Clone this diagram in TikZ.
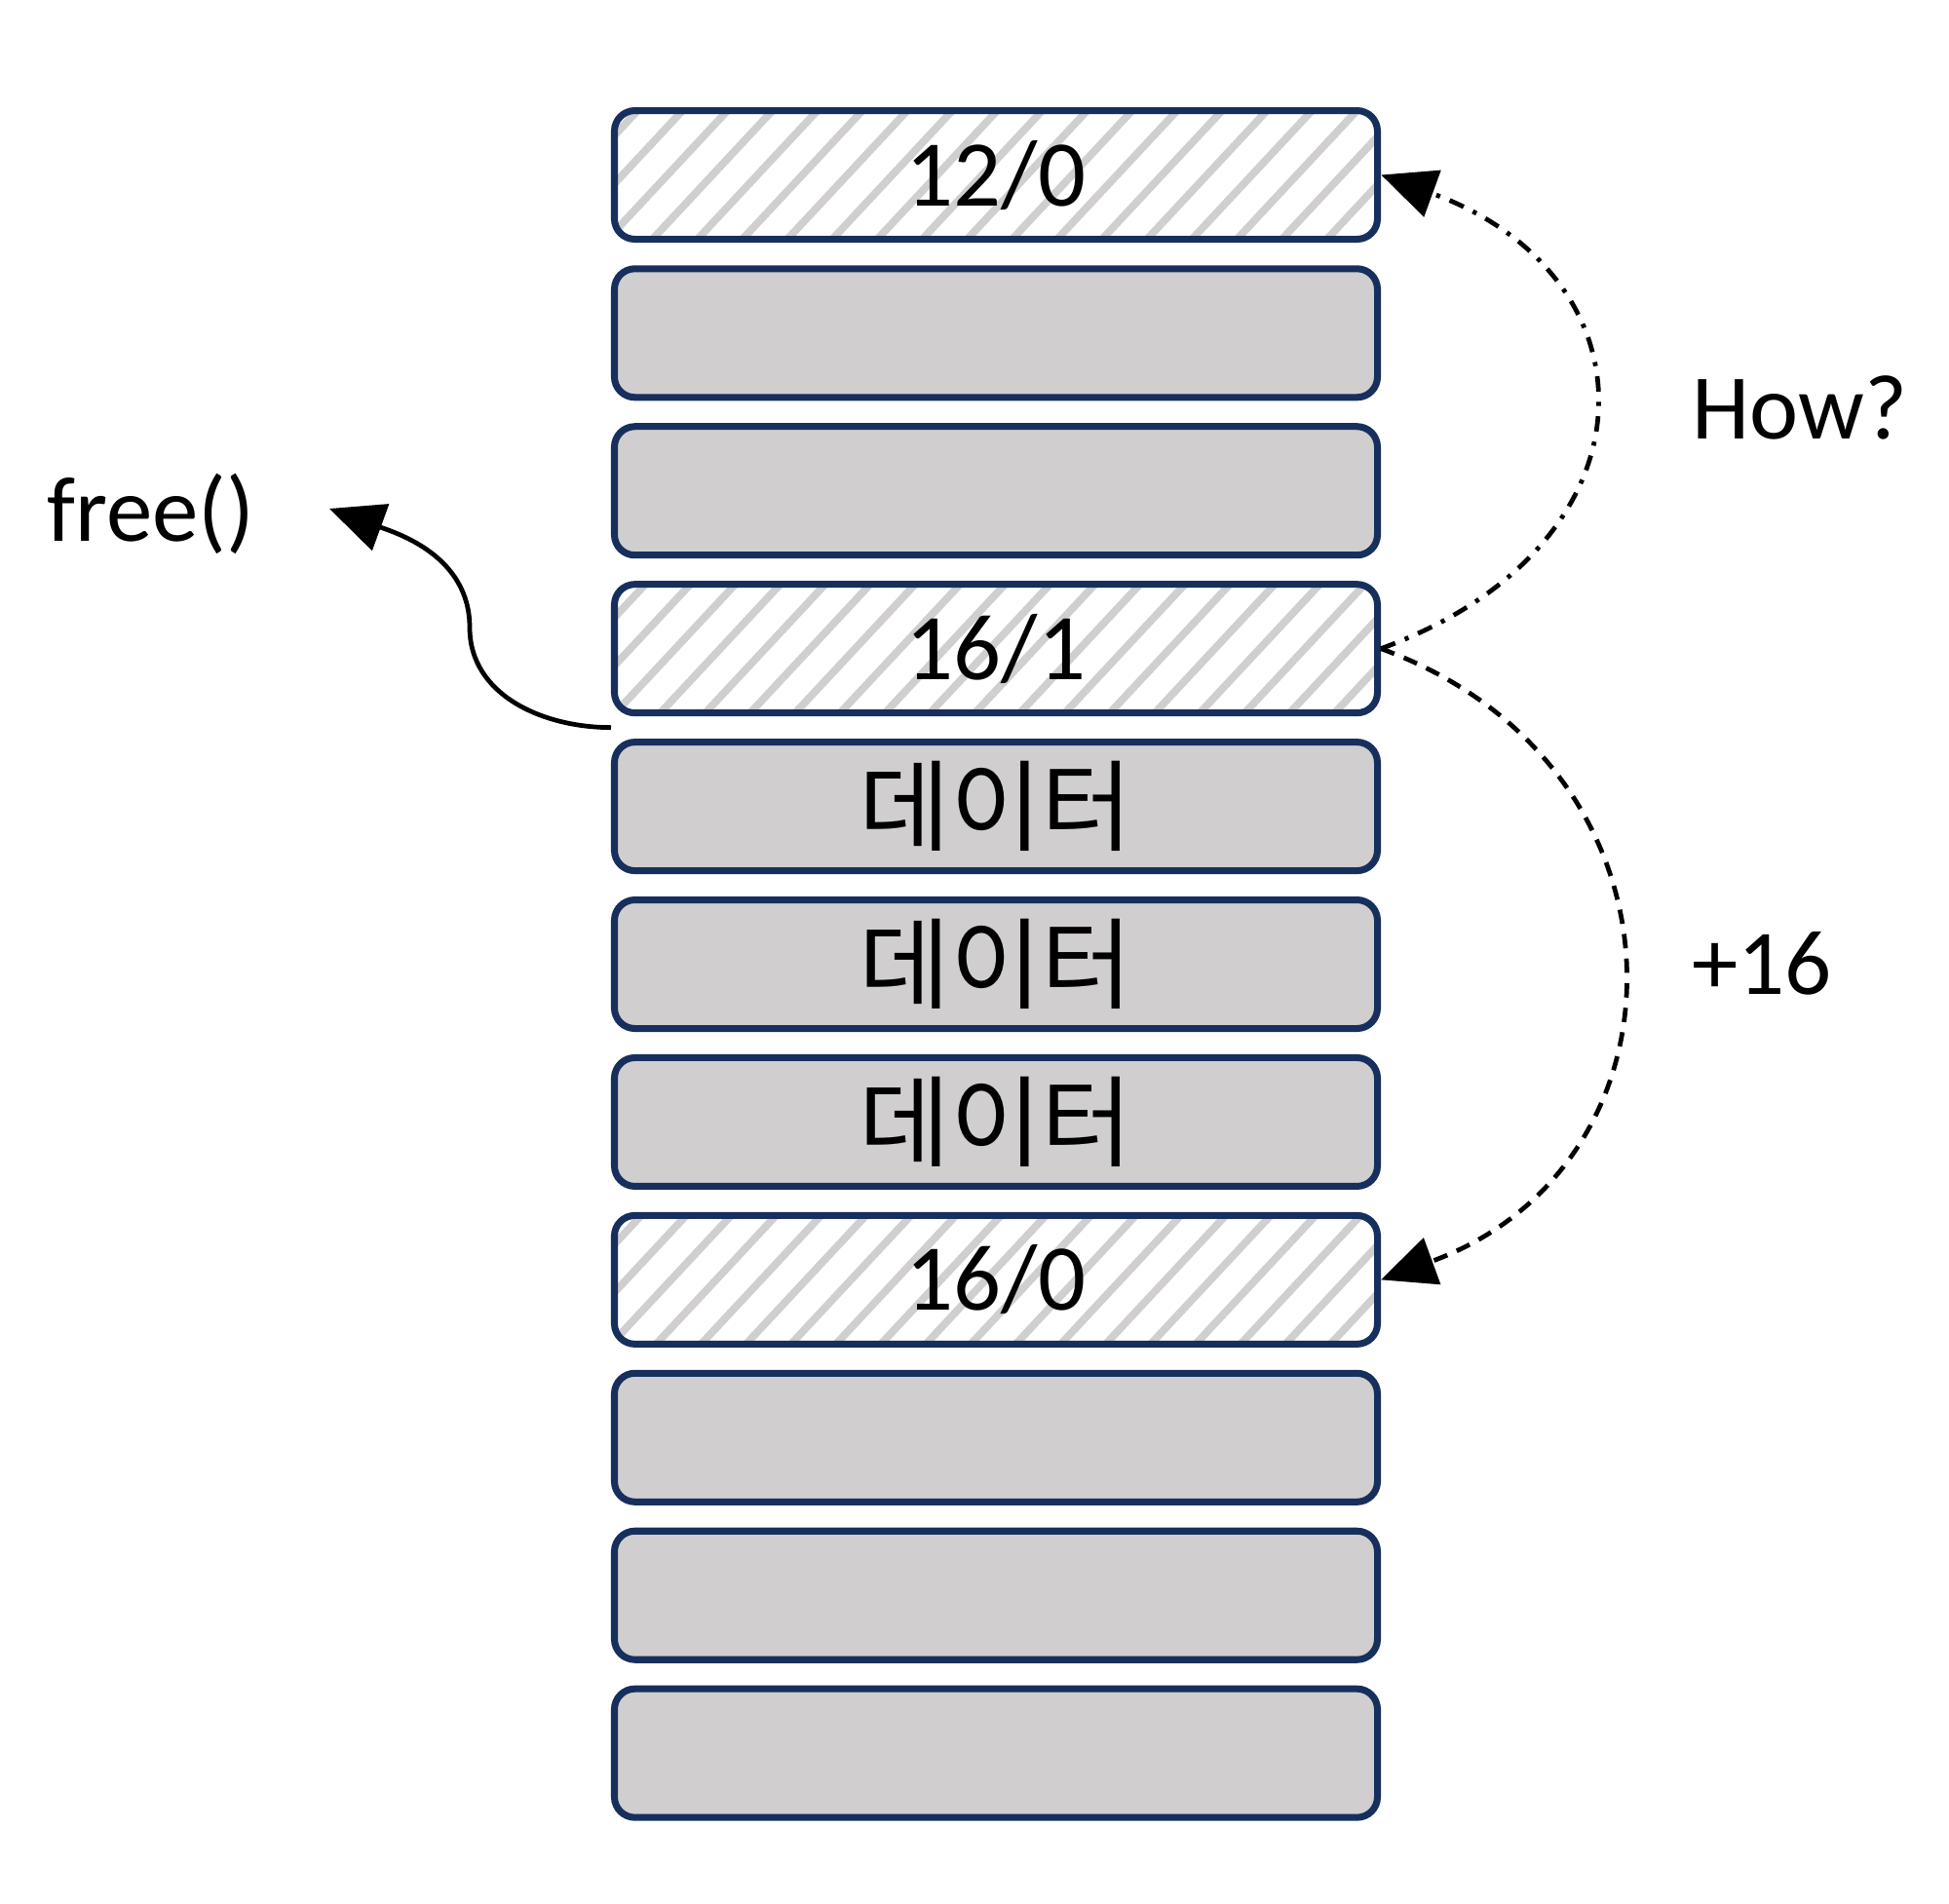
\documentclass[tikz,border=0pt]{standalone}
\usepackage{fontspec}
\setmainfont{Carlito}
\newfontfamily\krfont{Noto Sans CJK KR}
\usetikzlibrary{arrows.meta,positioning,patterns.meta}
\definecolor{navy}{HTML}{172F5C}
\definecolor{cellgray}{HTML}{D0CECE}

\begin{document}
\begin{tikzpicture}[node distance=0.229cm,
 cell/.style={rounded corners=0.21cm,draw=navy,line width=2pt,fill=cellgray,minimum width=7.83cm,minimum height=1.32cm,inner sep=0pt,font=\fontsize{27.5}{33}\selectfont},
 header/.style={cell,preaction={fill=white},pattern={Lines[angle=47,distance=9.6pt,line width=2.2pt]},pattern color=cellgray},
 data/.style={cell,font=\krfont\fontsize{29}{34}\selectfont},
 lbl/.style={anchor=base west,font=\fontsize{27}{32}\selectfont},
 link/.style={line width=1.35pt,-{Triangle[length=0.56cm,width=0.5cm]}}]
\useasboundingbox (0,0) rectangle (20,-19.53);
\node[header] (top) at (10.22,-1.795) {12/0};
\node[cell,below=of top] (free1) {};
\node[cell,below=of free1] (free2) {};
\node[header,below=of free2] (hdr) {16/1};
\node[data,below=of hdr] (data1) {데이터};
\node[data,below=of data1] (data2) {데이터};
\node[data,below=of data2] (data3) {데이터};
\node[header,below=of data3] (next) {16/0};
\node[cell,below=of next] (rest1) {};
\node[cell,below=of rest1] (rest2) {};
\node[cell,below=of rest2] (rest3) {};

\node[lbl] (freelbl) at (0.36,-5.55) {free()};
\node[lbl] (howlbl) at (17.24,-4.50) {How?};
\node[lbl] (sizelbl) at (17.24,-10.20) {+16};

\coordinate[below=0.1145cm of hdr.south west] (gap);
\coordinate (bend) at (4.82,-6.44);
\coordinate (freetip) at (3.38,-5.22);

\draw[link] (gap) to[out=180,in=-90] (bend) to[out=90,in=-20] (freetip);
\draw[link,dash pattern=on 4.5pt off 3pt on 1.2pt off 3pt] (hdr.east) to[out=20,in=-20,looseness=1.62] (top.east);
\draw[link,dash pattern=on 4.2pt off 3pt] (hdr.east) to[out=-20,in=20,looseness=1.38] (next.east);
\end{tikzpicture}
\end{document}
